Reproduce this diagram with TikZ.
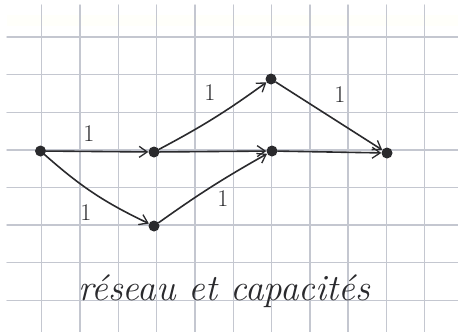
\documentclass[tikz,border=0pt]{standalone}
\usetikzlibrary{arrows.meta}
\definecolor{gridgray}{RGB}{196,199,208}
\definecolor{pencil}{RGB}{42,42,45}
\tikzset{
	dot/.style={circle,fill=pencil,inner sep=0pt,minimum size=11pt},
	arc/.style={draw=pencil,line width=1.6pt,line cap=round,-{Straight Barb[length=8pt,width=11pt,line width=1.3pt]},shorten >=0pt},
	capnum/.style={text=pencil,font=\fontsize{24}{24}\selectfont,inner sep=1pt}
}
\begin{document}
\begin{tikzpicture}[line cap=round,line join=round,x=1pt,y=-1pt]
				\useasboundingbox (0,0) rectangle (458,332);
				\fill[white] (0,0) rectangle (458,332);
				\fill[yellow!2] (7,15) rectangle (458,26);
				% grid of the paper
				\foreach \k in {1,...,11}
					\draw[gridgray,line width=1.4pt] ({3.4+38.3*\k},5) -- ({3.4+38.3*\k},332);
				\foreach \k in {1,...,8}
					\draw[gridgray,line width=1.4pt] (7,{-0.6+37.6*\k}) -- (458,{-0.6+37.6*\k});
				% vertices
				\node[dot] (s) at (40.5,151) {};
				\node[dot] (a) at (154,152) {};
				\node[dot] (b) at (154,226) {};
				\node[dot] (c) at (271,79) {};
				\node[dot] (d) at (272,151) {};
				\node[dot] (t) at (387,153) {};
				% arcs
				\draw[arc] (s) -- (a);
				\draw[arc] (s) to[bend right=8] (b);
				\draw[arc] (a) to[bend right=4] (c);
				\draw[arc] (a) -- (d);
				\draw[arc] (b) to[bend left=3] (d);
				\draw[arc] (c) -- (t);
				\draw[arc] (d) -- (t);
				% capacities
				\node[capnum] (ksa) at (89,134) {1};
				\node[capnum] (ksb) at (86,213) {1};
				\node[capnum] (kac) at (210,93) {1};
				\node[capnum] (kbd) at (223,199) {1};
				\node[capnum] (kct) at (340,95) {1};
				\node[text=pencil,font=\fontsize{37}{40}\selectfont\itshape] (title) at (224,291) {réseau et capacités};
\end{tikzpicture}
\end{document}
